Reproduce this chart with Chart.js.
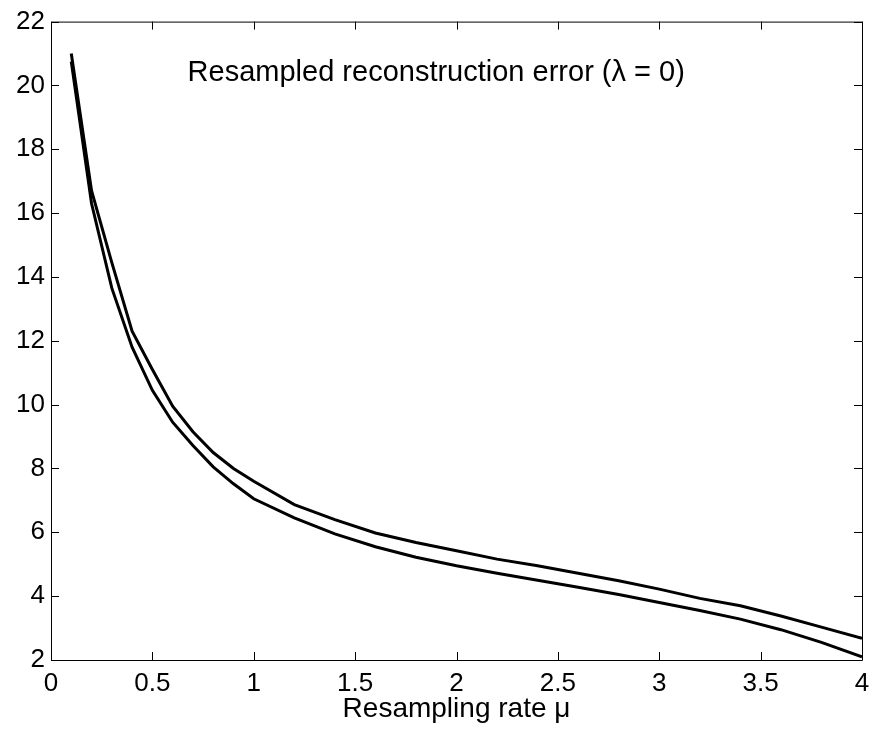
<!DOCTYPE html>
<html>
<head>
<meta charset="utf-8">
<script src="https://cdn.jsdelivr.net/npm/chart.js@4/dist/chart.umd.min.js"></script>
<style>
html,body{margin:0;padding:0;background:#fff;}
#wrap{width:872px;height:734px;position:relative;}
</style>
</head>
<body>
<div id="wrap"><canvas id="c" width="872" height="734"></canvas></div>
<script>
// ---- data ----
const xValues = [0.1,0.2,0.3,0.4,0.5,0.6,0.7,0.8,0.9,1.0,1.2,1.4,1.6,1.8,2.0,2.2,2.4,2.6,2.8,3.0,3.2,3.4,3.6,3.8,4.0];
const upperError = [21.0,16.7,14.45,12.3,11.1,9.95,9.15,8.5,8.0,7.6,6.87,6.4,5.98,5.68,5.42,5.16,4.95,4.72,4.48,4.22,3.93,3.70,3.38,3.03,2.68];
const lowerError = [20.75,16.3,13.65,11.8,10.45,9.45,8.72,8.05,7.52,7.05,6.45,5.95,5.55,5.22,4.95,4.72,4.5,4.28,4.05,3.8,3.55,3.28,2.95,2.55,2.1];
const xTicks = [0,0.5,1,1.5,2,2.5,3,3.5,4];
const yTicks = [2,4,6,8,10,12,14,16,18,20,22];
const titleText = "Resampled reconstruction error (\u03BB = 0)";
const xAxisTitle = "Resampling rate \u03BC";

const FONT = "'Liberation Sans', Arial, Helvetica, sans-serif";

function pts(xs, ys){ return xs.map((x,i)=>({x:x, y:ys[i]})); }

const boxPlugin = {
  id:'boxTicks',
  afterDraw(chart){
    const ctx = chart.ctx, a = chart.chartArea;
    const xs = chart.scales.x, ys = chart.scales.y;
    const L = 8;
    ctx.save();
    ctx.strokeStyle = '#000';
    ctx.lineWidth = 1;
    ctx.beginPath();
    ctx.rect(a.left+0.5, a.top+0.5, a.right-a.left, a.bottom-a.top);
    ctx.stroke();
    ctx.beginPath();
    xTicks.forEach(v=>{
      const p = Math.round(xs.getPixelForValue(v))+0.5;
      ctx.moveTo(p, a.bottom); ctx.lineTo(p, a.bottom-L);
      ctx.moveTo(p, a.top); ctx.lineTo(p, a.top+L);
    });
    yTicks.forEach(v=>{
      const p = Math.round(ys.getPixelForValue(v))+0.5;
      ctx.moveTo(a.left, p); ctx.lineTo(a.left+L, p);
      ctx.moveTo(a.right, p); ctx.lineTo(a.right-L, p);
    });
    ctx.stroke();
    // in-plot title text
    ctx.fillStyle = '#000';
    ctx.font = "29px " + FONT;
    ctx.textAlign = 'center';
    ctx.textBaseline = 'middle';
    ctx.fillText(titleText, xs.getPixelForValue(1.9), ys.getPixelForValue(20.4));
    ctx.restore();
  }
};

new Chart(document.getElementById('c'), {
  type:'line',
  data:{
    datasets:[
      {data: pts(xValues, upperError), borderColor:'#000', borderWidth:3, pointRadius:0, fill:false, tension:0},
      {data: pts(xValues, lowerError), borderColor:'#000', borderWidth:3, pointRadius:0, fill:false, tension:0}
    ]
  },
  options:{
    responsive:false,
    animation:false,
    devicePixelRatio:1,
    layout:{padding:{left:0,right:10,top:20,bottom:0}},
    plugins:{legend:{display:false}, tooltip:{enabled:false}, title:{display:false}},
    scales:{
      x:{
        type:'linear', min:0, max:4,
        afterBuildTicks(s){ s.ticks = xTicks.map(v=>({value:v})); },
        afterFit(s){ s.height = 74; s.paddingRight = 0; s.paddingLeft = 0; },
        grid:{display:false, drawTicks:false},
        border:{display:false},
        ticks:{color:'#000', font:{family:FONT, size:26}, padding:8, autoSkip:false, maxRotation:0,
               callback:(v)=>String(v)},
        title:{display:true, text:xAxisTitle, color:'#000', font:{family:FONT, size:28}, padding:{top:0,bottom:8}}
      },
      y:{
        type:'linear', min:2, max:22,
        afterBuildTicks(s){ s.ticks = yTicks.map(v=>({value:v})); },
        afterFit(s){ s.width = 51; },
        grid:{display:false, drawTicks:false},
        border:{display:false},
        ticks:{color:'#000', font:{family:FONT, size:26}, padding:6, autoSkip:false,
               callback:(v)=>String(v)}
      }
    }
  },
  plugins:[boxPlugin]
});
</script>
</body>
</html>
